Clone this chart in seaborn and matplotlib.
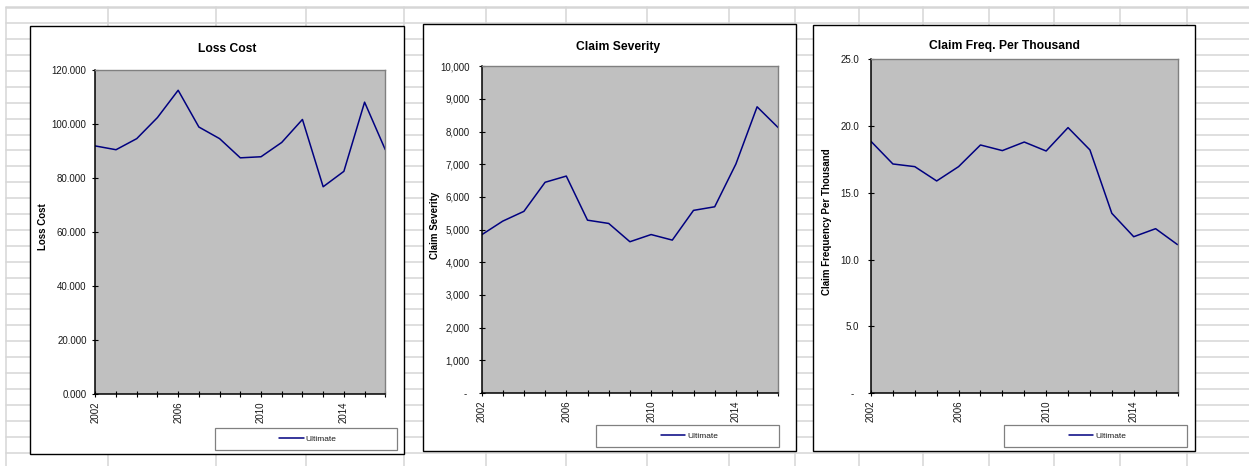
import matplotlib
matplotlib.use("Agg")
import matplotlib.pyplot as plt
from matplotlib.lines import Line2D
from matplotlib.patches import Rectangle
from matplotlib.ticker import FuncFormatter, MultipleLocator
import seaborn as sns

# ---- data -------------------------------------------------------------
years = list(range(2002, 2017))
loss_cost = [91.9, 90.5, 94.6, 102.4, 112.5, 98.9, 94.6, 87.5, 87.9, 93.2,
             101.7, 76.8, 82.5, 108.1, 90.5]
claim_severity = [4840, 5260, 5560, 6450, 6640, 5290, 5190, 4630, 4850, 4680,
                  5590, 5700, 7010, 8760, 8120]
claim_freq = [18.84, 17.15, 16.95, 15.88, 16.95, 18.57, 18.15, 18.79, 18.12,
              19.87, 18.20, 13.46, 11.71, 12.31, 11.12]

titles = ["Loss Cost", "Claim Severity", "Claim Freq. Per Thousand"]
ylabels = ["Loss Cost", "Claim Severity", "Claim Frequency Per Thousand"]
series_name = "Ultimate"

# ---- style ------------------------------------------------------------
sns.set_style("white")
plt.rcParams["font.family"] = ["Liberation Sans", "DejaVu Sans"]

W, H = 1249, 466
fig = plt.figure(figsize=(W / 100, H / 100), dpi=100)
fig.patch.set_facecolor("white")


def fx(x):
    return x / W


def fy(y):
    return 1 - y / H


# spreadsheet cell grid behind the charts
grid_c = "#d6d6d6"
col_x = [6, 108, 215.5, 306, 404.3, 485.7, 566.3, 647.3, 729, 794.5,
         859.3, 923.3, 989, 1054.3, 1120.3, 1186.7]
for i in range(29):
    y = 7.3 + 15.9 * i
    fig.add_artist(Line2D([fx(6), 1], [fy(y), fy(y)], transform=fig.transFigure,
                          color=grid_c, lw=1.8 if i == 0 else 1.1, zorder=-3))
for x in col_x:
    fig.add_artist(Line2D([fx(x), fx(x)], [fy(7.3), 0], transform=fig.transFigure,
                          color=grid_c, lw=1.1, zorder=-3))

panels = [
    dict(values=loss_cost, box=(30, 26, 404, 454), plot=(95.3, 70, 385.3, 394.3),
         title=(227.2, 48.5), ylab=(43, 226.5), leg=(215, 428, 397, 450),
         ymax=120, step=20, fmt=lambda v, p: f"{v:.3f}", ypad=4.0),
    dict(values=claim_severity, box=(423, 23.5, 796, 451), plot=(481.5, 66.3, 778.3, 393),
         title=(617.7, 47), ylab=(435, 225.5), leg=(596, 425.3, 778.7, 447),
         ymax=10000, step=1000,
         fmt=lambda v, p: "- " if abs(v) < 1e-9 else f"{v:,.0f}", ypad=6.2),
    dict(values=claim_freq, box=(813, 25, 1194.5, 451), plot=(871, 59, 1177.5, 393.3),
         title=(1004.3, 46.5), ylab=(827, 222), leg=(1004.3, 425.3, 1186.7, 447),
         ymax=25, step=5,
         fmt=lambda v, p: "-  " if abs(v) < 1e-9 else f"{v:.1f}", ypad=6.2),
]

for i, pn in enumerate(panels):
    # chart frame
    x0, y0, x1, y1 = pn["box"]
    fig.add_artist(Rectangle((fx(x0), fy(y1)), fx(x1 - x0), (y1 - y0) / H,
                             transform=fig.transFigure, facecolor="white",
                             edgecolor="black", lw=1.0, zorder=-2))
    # legend frame
    lx0, ly0, lx1, ly1 = pn["leg"]
    fig.add_artist(Rectangle((fx(lx0), fy(ly1)), fx(lx1 - lx0), (ly1 - ly0) / H,
                             transform=fig.transFigure, facecolor="white",
                             edgecolor="#808080", lw=0.9, zorder=-1))

    px0, py0, px1, py1 = pn["plot"]
    ax = fig.add_axes([fx(px0), fy(py1), fx(px1 - px0), (py1 - py0) / H])
    ax.set_facecolor("#c0c0c0")

    sns.lineplot(x=years, y=pn["values"], ax=ax, color="#000080",
                 linewidth=1.1, label=series_name)

    ax.set_xlim(years[0], years[-1])
    ax.set_ylim(0, pn["ymax"])
    ax.xaxis.set_major_locator(MultipleLocator(1))
    ax.xaxis.set_major_formatter(FuncFormatter(
        lambda v, p: f"{int(round(v))}" if int(round(v)) % 4 == 2 else ""))
    ax.yaxis.set_major_locator(MultipleLocator(pn["step"]))
    ax.yaxis.set_major_formatter(FuncFormatter(pn["fmt"]))

    ax.tick_params(axis="both", which="major", direction="inout", length=4.5,
                   width=0.8, color="black", labelsize=7, labelcolor="#1a1a1a",
                   bottom=True, left=True, top=False, right=False)
    ax.tick_params(axis="x", labelrotation=90, pad=3.0)
    ax.tick_params(axis="y", pad=pn["ypad"])
    ax.grid(False)

    for side in ("top", "right"):
        ax.spines[side].set_color("#808080")
        ax.spines[side].set_linewidth(1.0)
    for side in ("left", "bottom"):
        ax.spines[side].set_color("black")
        ax.spines[side].set_linewidth(1.1)

    # title
    tx, ty = pn["title"]
    ax.set_title(titles[i], fontsize=8.7, fontweight="bold", color="black", pad=0,
                 x=(tx - px0) / (px1 - px0), y=1 + (py0 - ty) / (py1 - py0),
                 va="center")

    # y axis label
    ax.set_ylabel(ylabels[i], fontsize=7, fontweight="bold", color="black")
    yx, yy = pn["ylab"]
    ax.yaxis.set_label_coords(fx(yx), fy(yy), transform=fig.transFigure)
    ax.yaxis.label.set_verticalalignment("center")
    ax.set_xlabel("")

    # legend
    ax.legend(loc="center", bbox_to_anchor=(fx((lx0 + lx1) / 2 + 2), fy((ly0 + ly1) / 2)),
              bbox_transform=fig.transFigure, frameon=False, fontsize=6,
              handlelength=2.9, handletextpad=0.25, borderpad=0, labelcolor="#1a1a1a")

fig.savefig("out.png", dpi=100, facecolor="white")
